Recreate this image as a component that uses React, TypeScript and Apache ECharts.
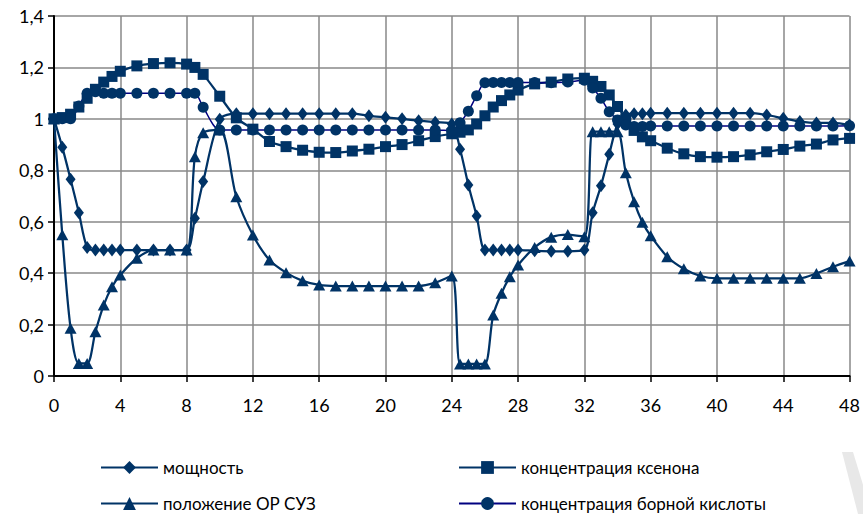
import React, { useEffect, useRef } from "react";
import * as echarts from "echarts";

const T = [0, 0.5, 1, 1.5, 2, 2.5, 3, 3.5, 4, 5, 6, 7, 8, 8.5, 9, 10, 11, 12, 13, 14, 15, 16, 17, 18, 19, 20, 21, 22, 23, 24, 24.5, 25, 25.5, 26, 26.5, 27, 27.5, 28, 29, 30, 31, 32, 32.5, 33, 33.5, 34, 34.5, 35, 35.5, 36, 37, 38, 39, 40, 41, 42, 43, 44, 45, 46, 47, 48];

const POWER = [1.0, 0.89, 0.765, 0.635, 0.5, 0.49, 0.49, 0.49, 0.49, 0.49, 0.49, 0.49, 0.49, 0.613, 0.756, 0.998, 1.02, 1.02, 1.02, 1.02, 1.02, 1.02, 1.02, 1.02, 1.012, 1.006, 1.0, 0.993, 0.987, 0.98, 0.882, 0.743, 0.622, 0.49, 0.49, 0.49, 0.49, 0.49, 0.487, 0.485, 0.485, 0.49, 0.635, 0.74, 0.862, 0.98, 1.015, 1.02, 1.02, 1.022, 1.022, 1.022, 1.022, 1.022, 1.022, 1.022, 1.015, 1.002, 0.99, 0.984, 0.984, 0.976];

const XENON = [1.0, 1.005, 1.018, 1.046, 1.08, 1.115, 1.143, 1.165, 1.185, 1.206, 1.215, 1.218, 1.213, 1.2, 1.173, 1.088, 1.004, 0.96, 0.912, 0.892, 0.878, 0.87, 0.869, 0.875, 0.882, 0.892, 0.9, 0.915, 0.931, 0.942, 0.948, 0.957, 0.98, 1.012, 1.046, 1.071, 1.093, 1.112, 1.136, 1.143, 1.155, 1.158, 1.146, 1.126, 1.093, 1.048, 1.0, 0.955, 0.93, 0.915, 0.886, 0.864, 0.853, 0.851, 0.853, 0.86, 0.872, 0.881, 0.894, 0.902, 0.918, 0.924];

const ROD = [1.0, 0.549, 0.186, 0.049, 0.049, 0.172, 0.276, 0.347, 0.393, 0.458, 0.49, 0.49, 0.49, 0.853, 0.946, 0.957, 0.697, 0.548, 0.451, 0.402, 0.37, 0.354, 0.35, 0.35, 0.35, 0.35, 0.35, 0.35, 0.363, 0.389, 0.047, 0.047, 0.047, 0.047, 0.237, 0.322, 0.386, 0.432, 0.5, 0.54, 0.55, 0.542, 0.95, 0.95, 0.95, 0.95, 0.79, 0.678, 0.598, 0.545, 0.464, 0.417, 0.389, 0.38, 0.38, 0.38, 0.38, 0.38, 0.38, 0.399, 0.425, 0.447];

const BORON = [1.0, 1.0, 1.0, 1.05, 1.1, 1.105, 1.1, 1.1, 1.1, 1.1, 1.1, 1.1, 1.1, 1.1, 1.045, 0.957, 0.957, 0.957, 0.957, 0.957, 0.957, 0.957, 0.957, 0.957, 0.957, 0.957, 0.957, 0.957, 0.957, 0.955, 0.985, 1.03, 1.09, 1.14, 1.141, 1.141, 1.141, 1.141, 1.141, 1.14, 1.143, 1.15, 1.12, 1.08, 1.028, 0.996, 0.976, 0.97, 0.97, 0.972, 0.972, 0.972, 0.972, 0.972, 0.972, 0.972, 0.972, 0.972, 0.972, 0.972, 0.972, 0.973];

const NAMES = ["мощность", "концентрация ксенона", "положение ОР СУЗ", "концентрация борной кислоты"];

const FONT = "Lato, 'Noto Sans', sans-serif";
const C = "#003366";

export default function App() {
  const ref = useRef<HTMLDivElement>(null);
  useEffect(() => {
    const chart = echarts.init(ref.current!, null, { renderer: "svg" });
    const pts = (vals: number[]) => T.map((t, i) => [t, vals[i]]);
    const mk = (name: string, vals: number[], symbol: string, size: any, lineColor: string, lw: number) => ({
      name,
      type: "line",
      data: pts(vals),
      smooth: 0.3,
      symbol,
      symbolSize: size,
      showAllSymbol: true,
      itemStyle: { color: C, borderWidth: 0 },
      lineStyle: { color: lineColor, width: lw },
      emphasis: { disabled: true },
    });
    const legendAt = (name: string, left: number, top: number) => ({
      data: [name],
      left,
      top,
      padding: 0,
      itemWidth: 57,
      itemHeight: 16,
      itemGap: 0,
      textStyle: { fontSize: 17, lineHeight: 17, color: "#000", fontFamily: FONT },
      selectedMode: false,
    });
    chart.setOption({
      animation: false,
      backgroundColor: "#fff",
      grid: { left: 54, right: 13, top: 16, bottom: 138, containLabel: false },
      xAxis: {
        type: "value",
        min: 0,
        max: 48,
        interval: 4,
        axisLine: { show: true, onZero: false, lineStyle: { color: "#000", width: 2 } },
        axisTick: { show: true, length: 6, lineStyle: { color: "#000", width: 1.5 } },
        axisLabel: { fontSize: 18, color: "#000", margin: 20, fontFamily: FONT },
        splitLine: { show: true, lineStyle: { color: "#888", width: 1.5 } },
      },
      yAxis: {
        type: "value",
        min: 0,
        max: 1.4,
        interval: 0.2,
        axisLine: { show: true, lineStyle: { color: "#000", width: 2 } },
        axisTick: { show: true, length: 6, lineStyle: { color: "#000", width: 1.5 } },
        axisLabel: {
          fontSize: 18,
          color: "#000",
          margin: 10,
          fontFamily: FONT,
          formatter: (v: number) => String(Math.round(v * 10) / 10).replace(".", ","),
        },
        splitLine: { show: true, lineStyle: { color: "#888", width: 1.5 } },
      },
      legend: [
        legendAt(NAMES[0], 100, 459),
        legendAt(NAMES[1], 458, 459),
        legendAt(NAMES[2], 100, 495),
        legendAt(NAMES[3], 458, 495),
      ],
      graphic: [
        {
          type: "polygon",
          shape: { points: [[842, 452], [853, 452], [872, 514], [858, 514]] },
          style: { fill: "#e8e8e8" },
          silent: true,
        },
      ],
      series: [
        mk(NAMES[0], POWER, "diamond", [10, 13], C, 2.25),
        mk(NAMES[1], XENON, "rect", 11, C, 2.25),
        mk(NAMES[2], ROD, "triangle", [12, 11], C, 2.25),
        mk(NAMES[3], BORON, "circle", 11, "#000080", 1.5),
      ],
    });
    return () => chart.dispose();
  }, []);
  return <div ref={ref} style={{ width: 863, height: 514, position: "absolute", left: 0, top: 0 }} />;
}
